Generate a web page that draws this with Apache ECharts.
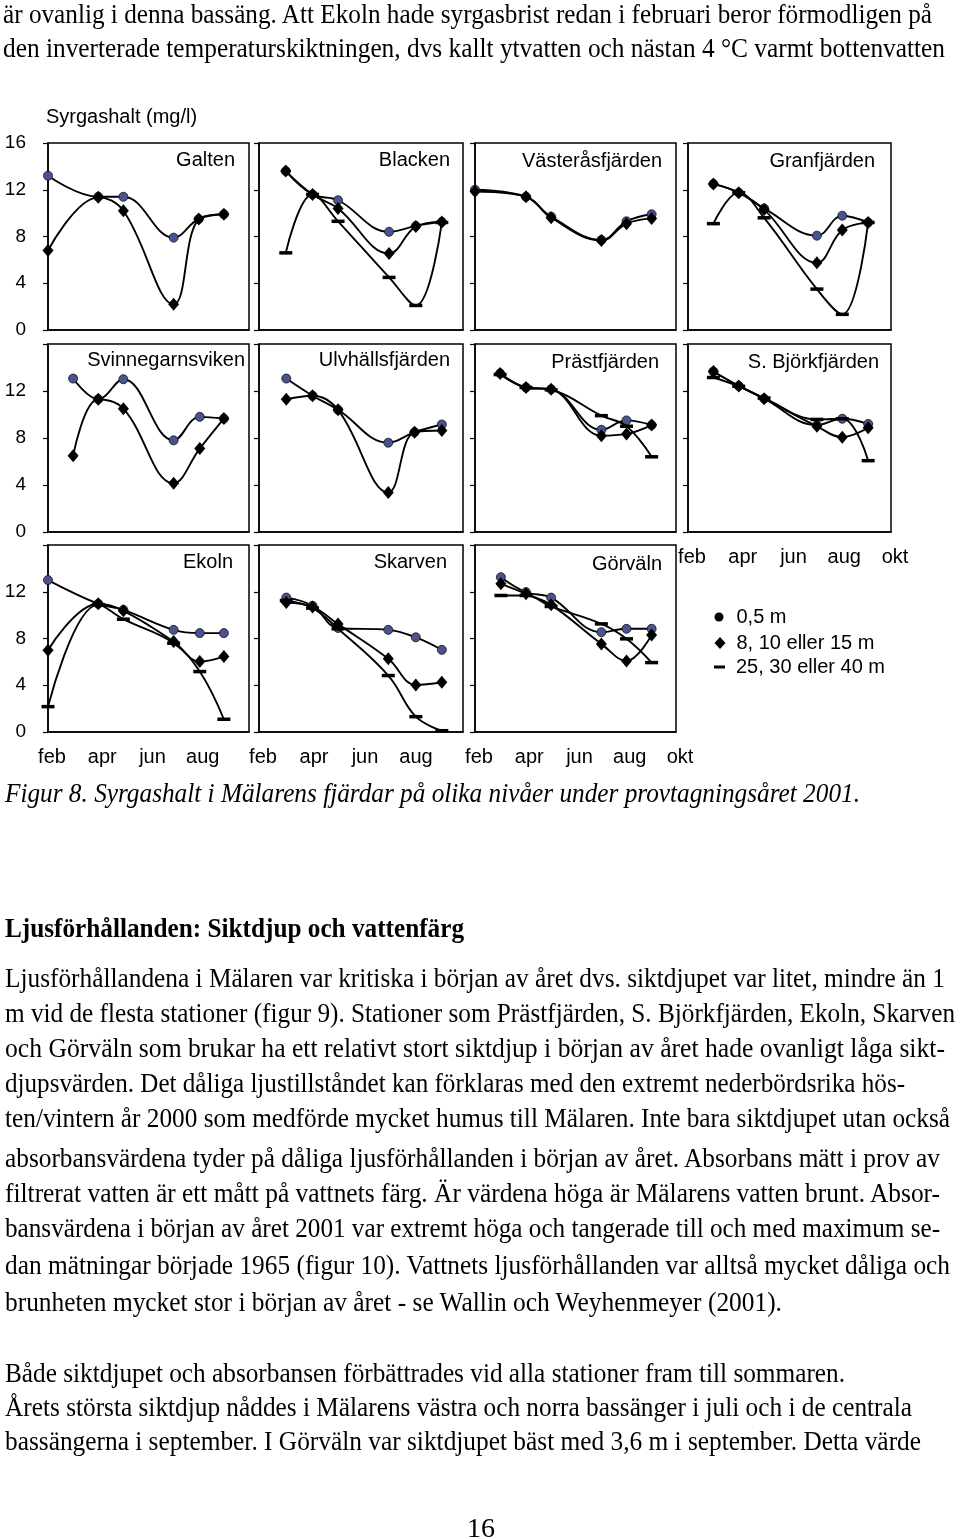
<!DOCTYPE html>
<html><head><meta charset="utf-8">
<script src="https://cdn.jsdelivr.net/npm/echarts@6/dist/echarts.min.js"></script>
<style>
html,body{margin:0;padding:0;background:#fff;}
#page{position:relative;width:960px;height:1539px;overflow:hidden;background:#fff;}
#chart{position:absolute;left:0;top:0;width:960px;height:1539px;}
.ln{position:absolute;white-space:nowrap;font-family:'Liberation Serif','Times New Roman',serif;font-size:28px;line-height:32px;height:32px;color:#000;transform-origin:0 50%;}
.it{font-style:italic;}
.bd{font-weight:bold;}
</style></head>
<body><div id="page"><div id="chart"></div><div id="text"></div></div>
<script>
// ---------------- DATA ----------------
const seriesNames = ['0,5 m', '8, 10 eller 15 m', '25, 30 eller 40 m'];
const yTickValues = [0, 4, 8, 12, 16];
const monthValues = [2, 4, 6, 8, 10];
const monthLabels = ['feb', 'apr', 'jun', 'aug', 'okt'];
const yAxisTitle = 'Syrgashalt (mg/l)';
const panelNames = ['Galten', 'Blacken', 'Västeråsfjärden', 'Granfjärden',
  'Svinnegarnsviken', 'Ulvhällsfjärden', 'Prästfjärden', 'S. Björkfjärden',
  'Ekoln', 'Skarven', 'Görväln'];

const galtenMonths = [2.0, 4.0, 5.0, 7.0, 8.0, 9.0];
const galten05 = [13.2, 11.4, 11.4, 7.9, 9.5, 9.9];
const galtenMid = [6.8, 11.35, 10.2, 2.2, 9.5, 9.9];

const blackenMonths = [3.05, 4.1, 5.1, 7.1, 8.15, 9.17];
const blacken05 = [13.6, 11.6, 11.1, 8.4, 8.9, 9.25];
const blackenMid = [13.6, 11.6, 10.4, 6.55, 8.85, 9.25];
const blackenDeep = [6.6, 11.6, 9.3, 4.5, 2.1, 9.2];

const vasterasMonths = [2.0, 4.03, 5.03, 7.03, 8.03, 9.03];
const vasteras05 = [12.0, 11.4, 9.7, 7.7, 9.3, 9.9];
const vasterasMid = [11.85, 11.4, 9.6, 7.65, 9.1, 9.55];

const granMonths = [3.0, 4.0, 5.0, 7.08, 8.08, 9.1];
const gran05 = [12.5, 11.75, 10.4, 8.07, 9.78, 9.2];
const granMid = [12.5, 11.75, 10.3, 5.75, 8.55, 9.2];
const granDeep = [9.1, 11.75, 9.6, 3.5, 1.34, 9.2];

const svinneMonths = [3.0, 4.0, 5.0, 7.0, 8.04, 9.0];
const svinne05 = [13.06, 11.3, 13.0, 7.8, 9.8, 9.65];
const svinneMid = [6.5, 11.3, 10.5, 4.15, 7.1, 9.65];

const ulvMonths = [3.07, 4.1, 5.1, 7.07, 8.1, 9.17];
const ulv05 = [13.06, 11.6, 10.4, 7.6, 8.5, 9.15];
const ulvMid = [11.3, 11.6, 10.4, 3.36, 8.5, 8.64];

const prastMonths = [3.0, 4.03, 5.03, 7.03, 8.03, 9.03];
const prast05 = [13.5, 12.3, 12.15, 8.7, 9.5, 9.1];
const prastMid = [13.5, 12.3, 12.15, 8.2, 8.35, 9.1];
const prastDeep = [13.4, 12.3, 12.1, 9.9, 9.0, 6.4];

const bjorkMonths = [3.0, 4.0, 5.0, 7.08, 8.08, 9.1];
const bjork05 = [13.66, 12.43, 11.35, 9.1, 9.64, 9.2];
const bjorkMid = [13.66, 12.43, 11.35, 9.0, 8.07, 8.87];
const bjorkDeep = [13.15, 12.4, 11.4, 9.58, 9.64, 6.07];

const ekolnMonths = [2.0, 4.0, 5.0, 7.0, 8.04, 9.0];
const ekoln05 = [13.0, 10.97, 10.45, 8.74, 8.46, 8.46];
const ekolnMid = [7.0, 10.97, 10.37, 7.74, 6.03, 6.45];
const ekolnDeep = [2.17, 10.9, 9.65, 7.6, 5.17, 1.09];

const skarvenMonths = [3.07, 4.1, 5.1, 7.07, 8.15, 9.17];
const skarven05 = [11.5, 10.8, 8.9, 8.74, 8.1, 7.03];
const skarvenMid = [11.08, 10.7, 9.23, 6.26, 4.03, 4.26];
const skarvenDeep = [11.25, 10.6, 8.83, 4.83, 1.31, 0.11];

const gorvalnMonths = [3.03, 4.03, 5.03, 7.03, 8.03, 9.03];
const gorvaln05 = [13.25, 11.97, 11.5, 8.54, 8.83, 8.83];
const gorvalnMid = [12.68, 11.83, 10.88, 7.54, 6.08, 8.31];
const gorvalnDeep = [11.68, 11.68, 10.74, 9.25, 7.97, 5.94];

const panelMonths = [galtenMonths, blackenMonths, vasterasMonths, granMonths, svinneMonths,
  ulvMonths, prastMonths, bjorkMonths, ekolnMonths, skarvenMonths, gorvalnMonths];
const panelSeries = [
  [galten05, galtenMid, null], [blacken05, blackenMid, blackenDeep],
  [vasteras05, vasterasMid, null], [gran05, granMid, granDeep],
  [svinne05, svinneMid, null], [ulv05, ulvMid, null],
  [prast05, prastMid, prastDeep], [bjork05, bjorkMid, bjorkDeep],
  [ekoln05, ekolnMid, ekolnDeep], [skarven05, skarvenMid, skarvenDeep],
  [gorvaln05, gorvalnMid, gorvalnDeep]];

// page text
const introLines = [
  'är ovanlig i denna bassäng. Att Ekoln hade syrgasbrist redan i februari beror förmodligen på',
  'den inverterade temperaturskiktningen, dvs kallt ytvatten och nästan 4 °C varmt bottenvatten'];
const captionText = 'Figur 8. Syrgashalt i Mälarens fjärdar på olika nivåer under provtagningsåret 2001.';
const headingText = 'Ljusförhållanden: Siktdjup och vattenfärg';
const para1Lines = [
  'Ljusförhållandena i Mälaren var kritiska i början av året dvs. siktdjupet var litet, mindre än 1',
  'm vid de flesta stationer (figur 9). Stationer som Prästfjärden, S. Björkfjärden, Ekoln, Skarven',
  'och Görväln som brukar ha ett relativt stort siktdjup i början av året hade ovanligt låga sikt-',
  'djupsvärden. Det dåliga ljustillståndet kan förklaras med den extremt nederbördsrika hös-',
  'ten/vintern år 2000 som medförde mycket humus till Mälaren. Inte bara siktdjupet utan också',
  'absorbansvärdena tyder på dåliga ljusförhållanden i början av året. Absorbans mätt i prov av',
  'filtrerat vatten är ett mått på vattnets färg. Är värdena höga är Mälarens vatten brunt. Absor-',
  'bansvärdena i början av året 2001 var extremt höga och tangerade till och med maximum se-',
  'dan mätningar började 1965 (figur 10). Vattnets ljusförhållanden var alltså mycket dåliga och',
  'brunheten mycket stor i början av året - se Wallin och Weyhenmeyer (2001).'];
const para2Lines = [
  'Både siktdjupet och absorbansen förbättrades vid alla stationer fram till sommaren.',
  'Årets största siktdjup nåddes i Mälarens västra och norra bassänger i juli och i de centrala',
  'bassängerna i september. I Görväln var siktdjupet bäst med 3,6 m i september. Detta värde'];
const pageNumber = '16';

// ---------------- LAYOUT ----------------
const SANS = "'Liberation Sans', Arial, Helvetica, sans-serif";
const colLeft = [48, 259, 475, 688];
const colWidth = [201, 204, 201, 203];
const rowTop = [143, 344, 545];
const rowHeight = [187, 188, 187];
const titleInset = [14, 13, 14, 16, 4, 13, 17, 12, 16, 16, 14];
const titleY = [160, 160, 161, 161, 360, 360, 362, 362, 562, 562, 564];

const grids = [], xAxes = [], yAxes = [], series = [], graphics = [];
const symbols = ['circle', 'diamond', 'rect'];
const symSizes = [9, [11, 13], [13, 3.5]];
const itemStyles = [
  {color: '#4b5290', borderColor: '#111', borderWidth: 0.8},
  {color: '#000'},
  {color: '#000'}];

panelNames.forEach((name, i) => {
  const row = Math.floor(i / 4), col = i % 4;
  grids.push({left: colLeft[col], top: rowTop[row], width: colWidth[col], height: rowHeight[row],
    show: true, borderColor: '#000', borderWidth: 1.5, backgroundColor: 'transparent'});
  const showX = i >= 7;
  xAxes.push({gridIndex: i, type: 'value', min: 2, max: 10, interval: 2,
    axisLine: {show: true, onZero: false, lineStyle: {color: '#000', width: 1.5}},
    axisTick: {show: false}, splitLine: {show: false},
    axisLabel: {show: showX, margin: 15, fontSize: 20, color: '#000', fontFamily: SANS,
      padding: [0, 0, 0, 8],
      formatter: (v) => {
        const k = monthValues.indexOf(v);
        if (k < 0) return '';
        if (v === 10 && (i === 8 || i === 9)) return '';
        return monthLabels[k];
      }}});
  yAxes.push({gridIndex: i, type: 'value', min: 0, max: 16, interval: 4,
    axisLine: {show: true, lineStyle: {color: '#000', width: 1.5}},
    axisTick: {show: true, length: 5, inside: false, lineStyle: {color: '#000', width: 1.2}},
    splitLine: {show: false},
    axisLabel: {show: col === 0, margin: 22, fontSize: 19, color: '#000', fontFamily: SANS,
      formatter: (v) => (yTickValues.indexOf(v) >= 0 && (row === 0 || v < 16)) ? String(v) : ''}});
  panelSeries[i].forEach((vals, k) => {
    if (!vals) return;
    series.push({type: 'line', name: seriesNames[k], xAxisIndex: i, yAxisIndex: i,
      data: panelMonths[i].map((m, j) => [m, vals[j]]),
      smooth: 0.4, symbol: symbols[k], symbolSize: symSizes[k], showSymbol: true,
      lineStyle: {color: '#000', width: 1.9}, itemStyle: itemStyles[k],
      z: 2 + k, clip: false, animation: false, emphasis: {disabled: true}, silent: true});
  });
  graphics.push({type: 'text', x: colLeft[col] + colWidth[col] - titleInset[i], y: titleY[i],
    style: {text: name, align: 'right', verticalAlign: 'middle', textAlign: 'right',
      textVerticalAlign: 'middle', fontSize: 20, fontFamily: SANS, fill: '#000'}});
});
graphics.push({type: 'text', x: 46, y: 117,
  style: {text: yAxisTitle, align: 'left', verticalAlign: 'middle', textAlign: 'left',
    textVerticalAlign: 'middle', fontSize: 20, fontFamily: SANS, fill: '#000'}});

const legendBase = {orient: 'vertical', selectedMode: false, padding: 0,
  textStyle: {fontSize: 20, color: '#000', fontFamily: SANS, lineHeight: 20}};
const legends = [
  Object.assign({}, legendBase, {left: 714.5, top: 607, itemWidth: 9, itemHeight: 9,
    data: [{name: seriesNames[0], icon: 'circle', itemStyle: {color: '#000', borderWidth: 0}}],
    textStyle: Object.assign({}, legendBase.textStyle, {padding: [0, 0, 0, 8]})}),
  Object.assign({}, legendBase, {left: 714.5, top: 633, itemWidth: 11, itemHeight: 12,
    data: [{name: seriesNames[1], icon: 'diamond', itemStyle: {color: '#000'}}],
    textStyle: Object.assign({}, legendBase.textStyle, {padding: [0, 0, 0, 6]})}),
  Object.assign({}, legendBase, {left: 714, top: 657, itemWidth: 11, itemHeight: 3,
    data: [{name: seriesNames[2], icon: 'rect', itemStyle: {color: '#000'}}],
    textStyle: Object.assign({}, legendBase.textStyle, {padding: [0, 0, 0, 6]})})];

const chart = echarts.init(document.getElementById('chart'), null, {renderer: 'canvas'});
chart.setOption({animation: false, backgroundColor: 'transparent',
  grid: grids, xAxis: xAxes, yAxis: yAxes, series: series, graphic: graphics, legend: legends});

// ---------------- PAGE TEXT ----------------
const textBox = document.getElementById('text');
function addLine(txt, x0, x1, yc, cls, center) {
  const el = document.createElement('div');
  el.className = 'ln' + (cls ? ' ' + cls : '');
  el.textContent = txt;
  textBox.appendChild(el);
  const w = el.getBoundingClientRect().width;
  el.style.top = (yc - 16) + 'px';
  if (center) {
    el.style.left = (x0 - w / 2) + 'px';
  } else {
    el.style.left = x0 + 'px';
    el.style.transform = 'scaleX(' + ((x1 - x0) / w).toFixed(4) + ')';
  }
}
const introY = [14, 48], introEnd = [932, 945];
introLines.forEach((t, k) => addLine(t, 3, introEnd[k], introY[k]));
addLine(captionText, 5, 860, 793, 'it');
addLine(headingText, 5, 464, 928, 'bd');
const p1Y = [978, 1013, 1048, 1083, 1118, 1158, 1193, 1228, 1265, 1302];
const p1End = [945, 955, 945, 905, 950, 940, 940, 940, 950, 782];
para1Lines.forEach((t, k) => addLine(t, 5, p1End[k], p1Y[k]));
const p2Y = [1373, 1407, 1441], p2End = [845, 912, 921];
para2Lines.forEach((t, k) => addLine(t, 5, p2End[k], p2Y[k]));
addLine(pageNumber, 481, 0, 1528, '', true);
</script>
</body></html>
